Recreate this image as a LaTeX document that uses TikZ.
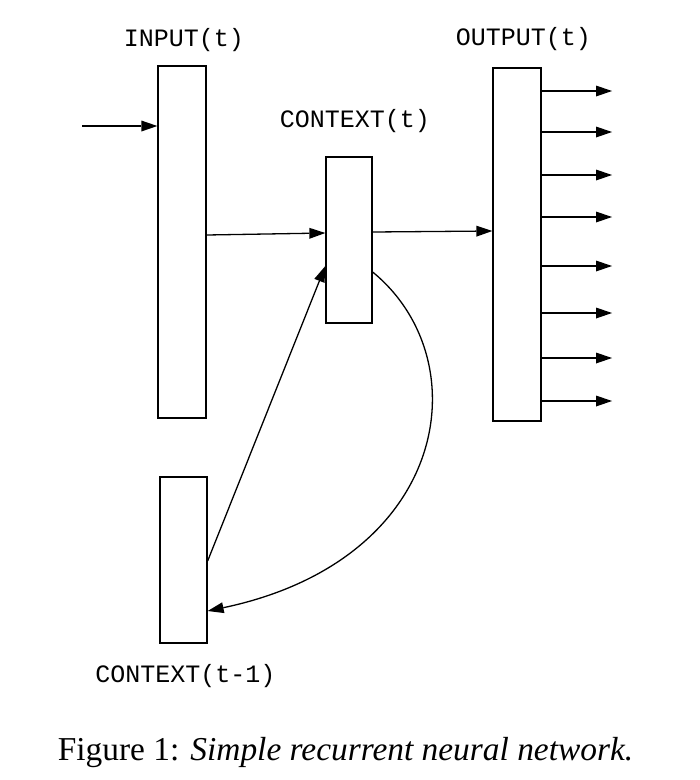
\documentclass[tikz,border=0pt]{standalone}
\usepackage{fontspec}
\setmainfont{Liberation Serif}
\setmonofont{Liberation Mono}
\usetikzlibrary{arrows.meta}
\begin{document}
\begin{tikzpicture}[x=1pt,y=-1pt,
  layer/.style={draw,line width=1.3pt,rectangle,inner sep=0pt,fill=white},
  arr/.style={line width=1.3pt,arrows={-Stealth[inset=0pt,length=16pt,width=11pt,line width=0pt]}},
  lbl/.style={anchor=base,inner sep=0pt,font=\fontsize{25}{25}\selectfont\ttfamily}]
\useasboundingbox (0,0) rectangle (700,780);
\node[layer,minimum width=48pt,minimum height=352pt] (inbox) at (182,242) {};
\node[layer,minimum width=46pt,minimum height=166pt] (ctx) at (349,240) {};
\node[layer,minimum width=48pt,minimum height=353pt] (outbox) at (517,244.5) {};
\node[layer,minimum width=47pt,minimum height=166pt] (prev) at (183.5,560) {};
\node[lbl] (linput) at (184,46) {INPUT(t)};
\node[lbl] (lctx) at (355,127) {CONTEXT(t)};
\node[lbl] (lout) at (523.5,45) {OUTPUT(t)};
\node[lbl] (lprev) at (185.5,682) {CONTEXT(t-1)};
\node[anchor=base,inner sep=0pt,font=\fontsize{33.4}{33.4}\selectfont] (cap) at (345.5,760) {Figure 1: \textit{Simple recurrent neural network.}};
\coordinate (src) at (82,126);
\draw[arr] (src) -- (inbox.west |- src);
\draw[arr] (inbox.east |- 0,235) -- (ctx.west |- 0,233);
\draw[arr] (ctx.east |- 0,232) -- (outbox.west |- 0,231);
\draw[arr] (prev.east |- 0,561) -- (ctx.west |- 0,266);
\draw[arr] (ctx.east |- 0,272) .. controls (480,360) and (450,560) .. (prev.east |- 0,611);
\foreach \y [count=\i] in {91,132,175,217,266,313,358,401}{
  \coordinate (o\i) at (612,\y);
  \draw[arr] (outbox.east |- o\i) -- (o\i);
}
\end{tikzpicture}
\end{document}
